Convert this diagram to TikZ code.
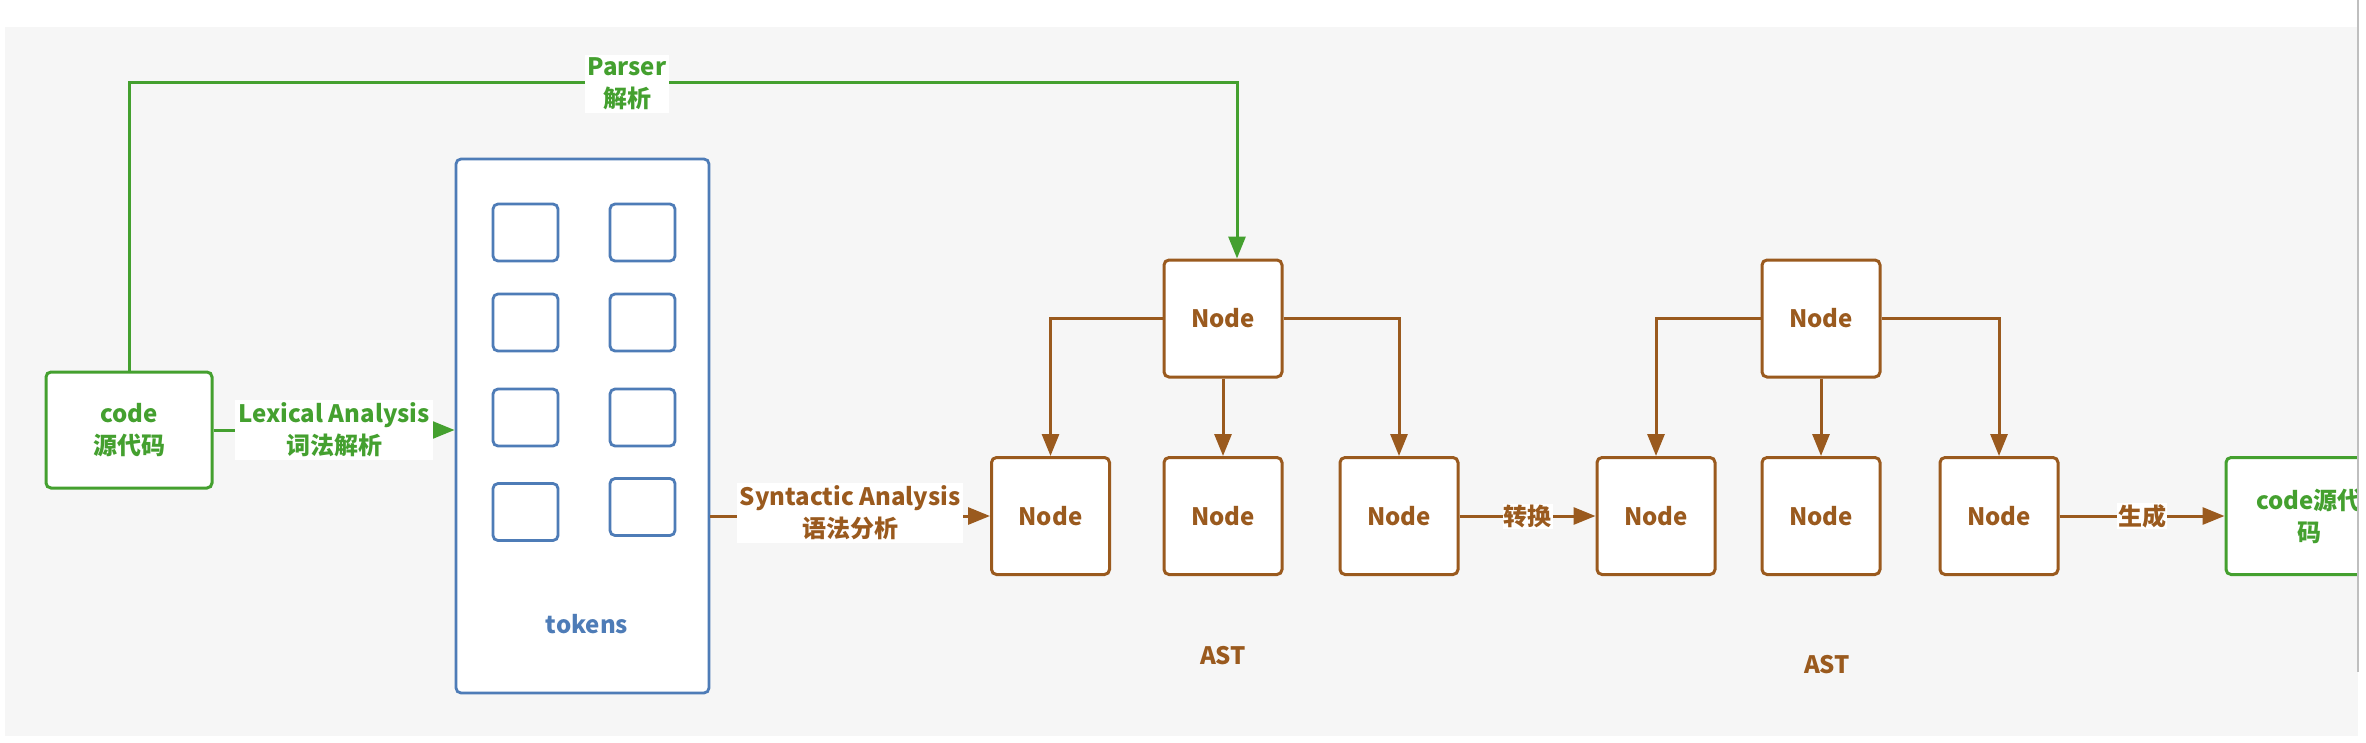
\documentclass[tikz,border=0pt]{standalone}
\usepackage{fontspec}
\setmainfont{Noto Sans CJK SC}
\usetikzlibrary{arrows.meta}
\definecolor{cgreen}{HTML}{44A02F}
\definecolor{cbrown}{HTML}{9A5A1E}
\definecolor{cblue}{HTML}{4E7CB7}
\definecolor{bgc}{HTML}{F6F6F6}
\begin{document}
\begin{tikzpicture}[x=1pt,y=-1pt,
  txt/.style={font=\bfseries\fontsize{24}{32}\selectfont, align=center},
  gbox/.style={draw=cgreen, line width=3pt, rounded corners=5pt, fill=white, text=cgreen, txt, inner sep=0pt},
  nbox/.style={draw=cbrown, line width=3pt, rounded corners=5pt, fill=white, text=cbrown, txt, minimum width=118pt, minimum height=117pt, inner sep=0pt},
  tbox/.style={draw=cblue, line width=2.8pt, rounded corners=5pt, fill=white, minimum width=65pt, minimum height=57pt, inner sep=0pt},
  gline/.style={draw=cgreen, line width=3pt},
  bline/.style={draw=cbrown, line width=3pt},
  tip/.style={-{Triangle[length=22pt,width=17pt]}},
  elab/.style={fill=white, txt, inner sep=3pt}
]
\useasboundingbox (0,0) rectangle (2366,742);
\fill[white] (0,0) rectangle (2366,742);
\fill[bgc] (5,27) rectangle (2358,736);

% source code
\node[gbox, minimum width=166pt, minimum height=116pt] (code) at (129,430) {code\\源代码};

% tokens
\node[draw=cblue, line width=2.8pt, rounded corners=5pt, fill=white, minimum width=253pt, minimum height=534pt] (tokens) at (582.5,426) {};
\node[tbox] (t11) at (525.5,232.5) {};
\node[tbox] (t12) at (642.5,232.5) {};
\node[tbox] (t21) at (525.5,322.5) {};
\node[tbox] (t22) at (642.5,322.5) {};
\node[tbox] (t31) at (525.5,417.5) {};
\node[tbox] (t32) at (642.5,417.5) {};
\node[tbox] (t41) at (525.5,512) {};
\node[tbox] (t42) at (642.5,507) {};
\node[txt, text=cblue] (toklab) at (587,624) {tokens};

% AST 1
\node[nbox] (a1t) at (1223,318.5) {Node};
\node[nbox] (a1l) at (1050.5,516) {Node};
\node[nbox] (a1m) at (1223,516) {Node};
\node[nbox] (a1r) at (1399,516) {Node};
\node[txt, text=cbrown] (ast1) at (1223,656) {AST};

% AST 2
\node[nbox] (a2t) at (1821,318.5) {Node};
\node[nbox] (a2l) at (1656,516) {Node};
\node[nbox] (a2m) at (1821,516) {Node};
\node[nbox] (a2r) at (1999,516) {Node};
\node[txt, text=cbrown] (ast2) at (1827,665) {AST};

% output code
\node[gbox, minimum width=166pt, minimum height=117pt] (code2) at (2309,516) {code源代\\码};

% connectors
\coordinate (pc) at (1237,82);
\draw[gline, tip, cgreen] (code.north) |- (pc) -- (pc |- a1t.north);
\node[elab, text=cgreen] (plab) at (627,84) {Parser\\解析};

\draw[gline, tip, cgreen] (code.east) -- (code.east -| tokens.west)
  node[midway, elab, text=cgreen] (llab) {Lexical Analysis\\词法解析};

\draw[bline, tip, cbrown] (tokens.east |- a1l.west) -- (a1l.west)
  node[midway, elab, text=cbrown, yshift=3pt] (slab) {Syntactic Analysis\\语法分析};

\draw[bline, tip, cbrown] (a1t.west) -| (a1l.north);
\draw[bline, tip, cbrown] (a1t.south) -- (a1m.north);
\draw[bline, tip, cbrown] (a1t.east) -| (a1r.north);

\draw[bline, tip, cbrown] (a1r.east) -- (a2l.west)
  node[midway, elab, text=cbrown, inner sep=1pt] (zlab) {转换};

\draw[bline, tip, cbrown] (a2t.west) -| (a2l.north);
\draw[bline, tip, cbrown] (a2t.south) -- (a2m.north);
\draw[bline, tip, cbrown] (a2t.east) -| (a2r.north);

\draw[bline, tip, cbrown] (a2r.east) -- (code2.west)
  node[midway, elab, text=cbrown, inner sep=1pt] (glab) {生成};

% screen edge
\fill[white] (2359,0) rectangle (2366,742);
\draw[draw=black!25, line width=2pt] (2358,0) -- (2358,672);
\end{tikzpicture}
\end{document}
